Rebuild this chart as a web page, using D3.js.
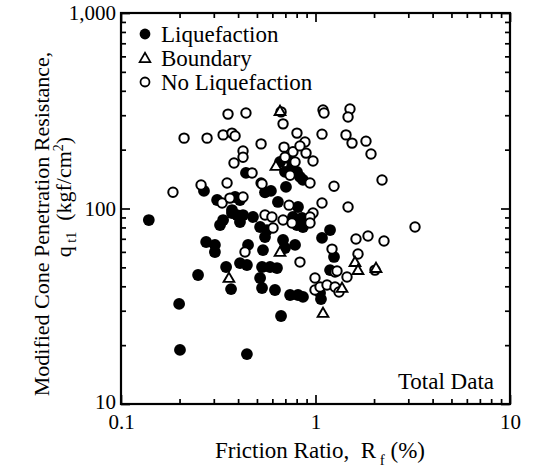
<!DOCTYPE html>
<html><head><meta charset="utf-8">
<script src="https://cdn.jsdelivr.net/npm/d3@7"></script>
<style>body{margin:0;background:#fff}svg text{font-family:"Liberation Serif","Times New Roman",serif;fill:#000}</style>
</head><body><svg id="c" width="536" height="476"></svg>
<script>
// ---- data (Friction ratio Rf in %, modified cone resistance qt1 in kgf/cm2) ----
const liquefactionRf = [0.139,0.199,0.201,0.444,0.249,0.274,0.304,0.304,0.347,0.368,0.267,0.312,0.372,0.335,0.323,0.409,0.439,0.550,0.590,0.705,0.641,0.813,0.386,0.372,0.395,0.424,0.477,0.766,0.852,0.409,0.519,0.563,0.803,0.862,0.550,1.188,1.080,0.681,0.697,0.785,0.450,0.537,0.409,0.444,0.531,0.584,0.634,0.519,1.188,0.531,0.619,0.740,0.813,0.862,0.665,1.245,1.055,1.067,0.657,0.722,0.757,0.803,0.832,0.862,0.697];
const liquefactionQt = [87.3,32.5,18.9,18.0,45.7,67.4,65.1,59.9,50.2,38.7,123,110.5,94.8,87.3,82.3,110.5,152,121,123,129,108,101.8,114.5,98.2,92.6,92.6,90.5,90.5,89.4,85.3,80.4,77.6,82.3,80.4,71.5,77.6,70.7,69.0,62.8,65.1,65.1,61.3,52.6,51.4,50.2,50.2,49.6,44.1,48.4,39.2,38.3,36.1,36.1,35.3,28.2,56.5,37.0,34.4,173,181,163,154,145,140,154];

const boundaryRf = [0.657,0.626,0.359,0.657,1.596,1.654,2.047,1.369,1.093];
const boundaryQt = [315,165,44.1,59.9,53.2,48.4,49.6,39.2,29.2];

const noLiqRf = [0.185,0.258,0.351,0.525,0.331,0.363,0.472,0.731,0.424,0.355,0.439,0.665,1.093,1.106,1.504,1.470,0.211,0.277,0.335,0.372,0.386,0.681,0.803,0.883,0.525,0.424,0.424,0.381,0.689,0.766,0.832,0.894,0.971,0.697,0.785,1.080,1.435,1.541,1.818,1.929,1.245,2.198,1.470,1.080,0.971,0.937,0.937,0.531,0.550,0.597,0.681,0.757,0.937,0.605,0.434,0.832,0.994,1.260,0.994,1.055,1.146,1.260,3.248,1.615,1.862,2.250,1.216,1.654,1.290,1.452,1.321,2.022,0.740];
const noLiqQt = [121,132,135,135,106.7,113,152,104,114.5,304,308,312,319,308,323,294,229,229,238,243,235,271,243,219,214,197,183,171,206,195,209,192,175,183,173,240,238,216,221,190,130,140,101.8,106.7,94.8,90.5,135,133.5,92.6,90.5,87.3,84.3,84.3,79.5,59.9,53.2,44.1,47.3,38.3,39.7,40.6,39.7,80.4,69.8,72.3,68.2,62.0,58.5,47.9,44.6,37.4,48.4,148];

const xTickValues = [0.1, 1, 10];
const xTickLabels = ["0.1", "1", "10"];
const yTickValues = [10, 100, 1000];
const yTickLabels = ["10", "100", "1,000"];
const legendLabels = ["Liquefaction", "Boundary", "No Liquefaction"];

// ---- layout ----
const svg = d3.select("#c");
const L = 121, R = 510, T = 13, B = 404;
const x = d3.scaleLog().domain([0.1, 10]).range([L, R]);
const y = d3.scaleLog().domain([10, 1000]).range([B, T]);

const minorX = [];
[0.1, 1].forEach(d => { for (let k = 2; k <= 9; k++) minorX.push(+(d * k).toFixed(2)); });
const minorY = [];
[10, 100].forEach(d => { for (let k = 2; k <= 9; k++) minorY.push(d * k); });

function styleAxis(g) {
  g.select(".domain").remove();
  g.selectAll(".tick line").attr("stroke", "#000").attr("stroke-width", 1.7);
  g.selectAll(".tick text").attr("font-size", 21).attr("fill", "#000")
    .attr("font-family", '"Liberation Serif","Times New Roman",serif');
}
const fmtX = (d, i) => xTickLabels[i];
const fmtY = (d, i) => yTickLabels[i];

// bottom axis
svg.append("g").attr("transform", `translate(0,${B})`)
  .call(d3.axisBottom(x).tickValues(xTickValues).tickFormat(fmtX).tickSize(-9).tickPadding(10)).call(styleAxis);
svg.append("g").attr("transform", `translate(0,${B})`)
  .call(d3.axisBottom(x).tickValues(minorX).tickFormat("").tickSize(-5)).call(styleAxis);
// top axis
svg.append("g").attr("transform", `translate(0,${T})`)
  .call(d3.axisTop(x).tickValues(xTickValues).tickFormat("").tickSize(-9)).call(styleAxis);
svg.append("g").attr("transform", `translate(0,${T})`)
  .call(d3.axisTop(x).tickValues(minorX).tickFormat("").tickSize(-5)).call(styleAxis);
// left axis
const yAxisG = svg.append("g").attr("transform", `translate(${L},0)`)
  .call(d3.axisLeft(y).tickValues(yTickValues).tickFormat(fmtY).tickSize(-9).tickPadding(5)).call(styleAxis);
yAxisG.selectAll(".tick text").attr("dy", (d) => d === 10 ? "0.2em" : "0.32em");
svg.append("g").attr("transform", `translate(${L},0)`)
  .call(d3.axisLeft(y).tickValues(minorY).tickFormat("").tickSize(-5)).call(styleAxis);
// right axis
svg.append("g").attr("transform", `translate(${R},0)`)
  .call(d3.axisRight(y).tickValues(yTickValues).tickFormat("").tickSize(-9)).call(styleAxis);
svg.append("g").attr("transform", `translate(${R},0)`)
  .call(d3.axisRight(y).tickValues(minorY).tickFormat("").tickSize(-5)).call(styleAxis);

// frame
svg.append("rect").attr("x", L).attr("y", T).attr("width", R - L).attr("height", B - T)
  .attr("fill", "none").attr("stroke", "#000").attr("stroke-width", 2.2);

// ---- marks ----
const liq = d3.zip(liquefactionRf, liquefactionQt);
const nol = d3.zip(noLiqRf, noLiqQt);
const bnd = d3.zip(boundaryRf, boundaryQt);
const tri = d3.symbol().type(d3.symbolTriangle).size(50);

svg.append("g").selectAll("circle").data(liq).join("circle")
  .attr("cx", d => x(d[0])).attr("cy", d => y(d[1])).attr("r", 5.9).attr("fill", "#000");
svg.append("g").selectAll("circle").data(nol).join("circle")
  .attr("cx", d => x(d[0])).attr("cy", d => y(d[1])).attr("r", 4.7)
  .attr("fill", "#fff").attr("stroke", "#000").attr("stroke-width", 2);
svg.append("g").selectAll("path").data(bnd).join("path")
  .attr("d", tri).attr("transform", d => `translate(${x(d[0])},${y(d[1]) + 0.8})`)
  .attr("fill", "#fff").attr("stroke", "#000").attr("stroke-width", 1.9);

// ---- legend ----
const lg = svg.append("g");
const ly = [42, 66, 90];
lg.append("circle").attr("cx", 145).attr("cy", ly[0] - 8).attr("r", 5.4).attr("fill", "#000");
lg.append("path").attr("d", tri).attr("transform", `translate(145,${ly[1] - 7})`)
  .attr("fill", "#fff").attr("stroke", "#000").attr("stroke-width", 1.7);
lg.append("circle").attr("cx", 145).attr("cy", ly[2] - 8).attr("r", 4.5)
  .attr("fill", "#fff").attr("stroke", "#000").attr("stroke-width", 1.8);
legendLabels.forEach((t, i) => lg.append("text").attr("x", 161).attr("y", ly[i]).attr("font-size", 23).text(t));

// "Total Data"
svg.append("text").attr("x", 494).attr("y", 389).attr("text-anchor", "end").attr("font-size", 23).text("Total Data");

// x title
const xt = svg.append("text").attr("x", 320).attr("y", 458).attr("text-anchor", "middle").attr("font-size", 23);
xt.append("tspan").text("Friction Ratio,\u00a0 R");
xt.append("tspan").attr("dy", 7).attr("font-size", 15).text("\u00a0f");
xt.append("tspan").attr("dy", -7).text("\u00a0(%)");

// y title
const yt = svg.append("g").attr("transform", "translate(49,224) rotate(-90)");
yt.append("text").attr("text-anchor", "middle").attr("font-size", 22).text("Modified Cone Penetration Resistance,");
const yt2 = svg.append("g").attr("transform", "translate(71,197) rotate(-90)");
const t2 = yt2.append("text").attr("text-anchor", "middle").attr("font-size", 22);
t2.append("tspan").text("q");
t2.append("tspan").attr("dy", 5).attr("font-size", 14).text("\u00a0t1");
t2.append("tspan").attr("dy", -5).text("\u00a0 (kgf/cm");
t2.append("tspan").attr("dy", -8).attr("font-size", 14).text("2");
t2.append("tspan").attr("dy", 8).text(")");
</script>
</body></html>
